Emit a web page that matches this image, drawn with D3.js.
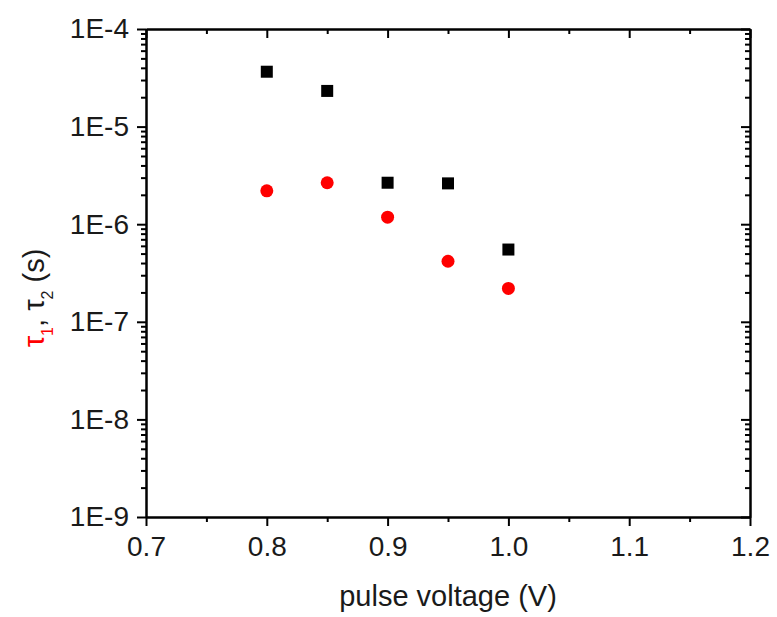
<!DOCTYPE html>
<html>
<head>
<meta charset="utf-8">
<script src="https://cdn.jsdelivr.net/npm/d3@7"></script>
<style>
  body { margin: 0; background: #fff; }
  svg text { font-family: "Liberation Sans", Arial, sans-serif; }
</style>
</head>
<body>
<div id="chart"></div>
<script>
(() => {
    // data
    let voltages = [0.8, 0.85, 0.9, 0.95, 1.0];
    let tau2 = [3.65e-5, 2.32e-5, 2.66e-6, 2.62e-6, 5.5e-7];   // black squares
    let tau1 = [2.2e-6, 2.66e-6, 1.18e-6, 4.17e-7, 2.2e-7];    // red circles
    let xTicks = [0.7, 0.8, 0.9, 1.0, 1.1, 1.2];
    let xMinor = [0.75, 0.85, 0.95, 1.05, 1.15];
    let yTicks = [1e-9, 1e-8, 1e-7, 1e-6, 1e-5, 1e-4];

    let W = 777, H = 617;
    let left = 146, right = 750, top = 29, bottom = 517;

    let svg = d3.select('#chart')
        .append('svg')
        .attr('width', W)
        .attr('height', H);

    let x = d3.scaleLinear().domain([0.7, 1.2]).range([left, right]);
    let y = d3.scaleLog().domain([1e-9, 1e-4]).range([bottom, top]);

    let yMinor = [];
    yTicks.slice(0, -1).forEach(d => {
        for (let k = 2; k <= 9; k++) yMinor.push(d * k);
    });

    let fmt = d => '1E' + Math.round(Math.log10(d));

    function styleAxis(g) {
        g.selectAll('path').attr('stroke', '#000').attr('stroke-width', 2);
        g.selectAll('line').attr('stroke', '#000').attr('stroke-width', 2);
        g.selectAll('text').attr('fill', '#1a1a1a').style('font-size', '28px');
    }

    // bottom
    svg.append('g').attr('transform', `translate(0,${bottom})`)
        .call(d3.axisBottom(x).tickValues(xTicks).tickSize(9).tickPadding(10)
            .tickFormat(d3.format('.1f')).tickSizeOuter(0))
        .call(styleAxis);
    svg.append('g').attr('transform', `translate(0,${bottom})`)
        .call(d3.axisBottom(x).tickValues(xMinor).tickSize(5).tickFormat('').tickSizeOuter(0))
        .call(styleAxis);
    // top (inward)
    svg.append('g').attr('transform', `translate(0,${top})`)
        .call(d3.axisTop(x).tickValues(xTicks).tickSize(-9).tickFormat('').tickSizeOuter(0))
        .call(styleAxis);
    svg.append('g').attr('transform', `translate(0,${top})`)
        .call(d3.axisTop(x).tickValues(xMinor).tickSize(-5).tickFormat('').tickSizeOuter(0))
        .call(styleAxis);
    // left
    svg.append('g').attr('transform', `translate(${left},0)`)
        .call(d3.axisLeft(y).tickValues(yTicks).tickSize(9).tickPadding(8)
            .tickFormat(fmt).tickSizeOuter(0))
        .call(styleAxis);
    svg.append('g').attr('transform', `translate(${left},0)`)
        .call(d3.axisLeft(y).tickValues(yMinor).tickSize(5).tickFormat('').tickSizeOuter(0))
        .call(styleAxis);
    // right (inward)
    svg.append('g').attr('transform', `translate(${right},0)`)
        .call(d3.axisRight(y).tickValues(yTicks).tickSize(-9).tickFormat('').tickSizeOuter(0))
        .call(styleAxis);
    svg.append('g').attr('transform', `translate(${right},0)`)
        .call(d3.axisRight(y).tickValues(yMinor).tickSize(-5).tickFormat('').tickSizeOuter(0))
        .call(styleAxis);

    // markers
    let sq = 12;
    svg.append('g').selectAll('rect')
        .data(voltages)
        .enter()
        .append('rect')
        .attr('x', (d, i) => x(d) - sq / 2)
        .attr('y', (d, i) => y(tau2[i]) - sq / 2)
        .attr('width', sq)
        .attr('height', sq)
        .attr('fill', '#000');

    svg.append('g').selectAll('circle')
        .data(voltages)
        .enter()
        .append('circle')
        .attr('cx', d => x(d))
        .attr('cy', (d, i) => y(tau1[i]))
        .attr('r', 6.5)
        .attr('fill', '#f00');

    // axis titles
    svg.append('text')
        .attr('x', (left + right) / 2)
        .attr('y', 606)
        .attr('text-anchor', 'middle')
        .attr('fill', '#1a1a1a')
        .style('font-size', '29px')
        .text('pulse voltage (V)');

    let yt = svg.append('text')
        .attr('transform', 'translate(44,298) rotate(-90)')
        .attr('text-anchor', 'middle')
        .style('font-size', '29px');
    yt.append('tspan').attr('fill', '#f00').text('τ');
    yt.append('tspan').attr('fill', '#f00').attr('baseline-shift', 'sub').style('font-size', '16px').text('1');
    yt.append('tspan').attr('fill', '#1a1a1a').text(', τ');
    yt.append('tspan').attr('fill', '#1a1a1a').attr('baseline-shift', 'sub').style('font-size', '16px').text('2');
    yt.append('tspan').attr('fill', '#1a1a1a').text(' (s)');
})();
</script>
</body>
</html>
